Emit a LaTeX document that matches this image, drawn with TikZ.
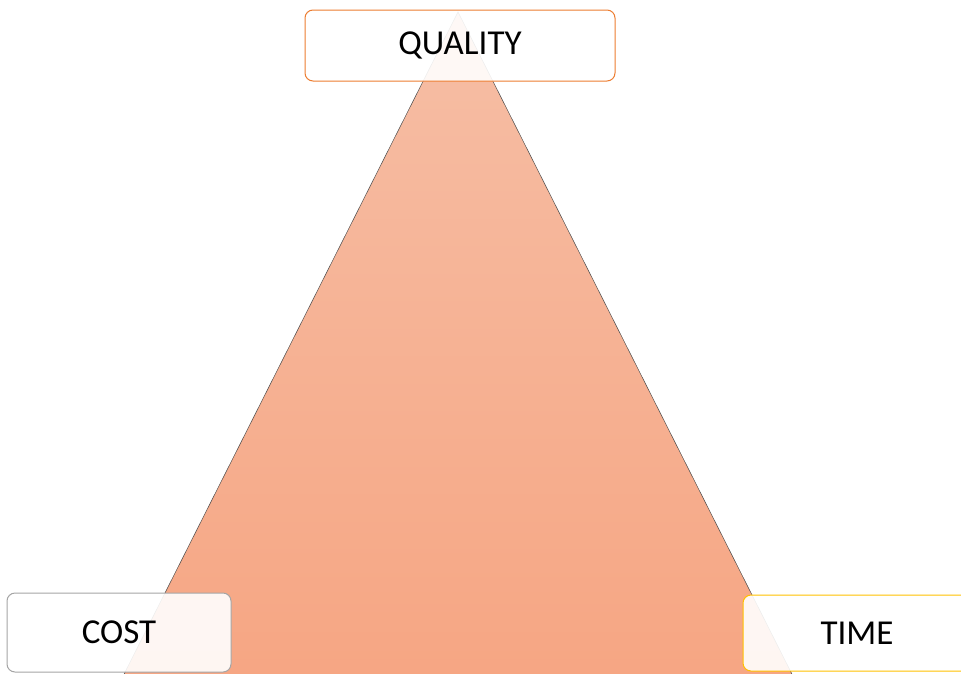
\documentclass[tikz,border=0pt]{standalone}
\usepackage{fontspec}
\setmainfont{Carlito}
\definecolor{qualityline}{HTML}{ED7D31}
\definecolor{costline}{HTML}{A5A5A5}
\definecolor{timeline}{HTML}{FFC000}
\definecolor{tritop}{RGB}{246,190,165}
\definecolor{tribottom}{RGB}{246,165,130}

\begin{document}
\begin{tikzpicture}[x=1pt,y=-1pt,
	corner/.style = {rectangle, rounded corners=8pt, fill=white, fill opacity=0.9, text opacity=1, line width=1pt, minimum height=71pt, font=\fontsize{35}{42}\selectfont},
	qualitybox/.style={corner, draw=qualityline, minimum width=310pt},
	costbox/.style={corner, draw=costline, minimum width=224pt, minimum height=79pt},
	timebox/.style={corner, draw=timeline, minimum width=228pt, minimum height=76pt},
]
\useasboundingbox (0,0) rectangle (961,673);
\clip (0,0) rectangle (961,673);
\coordinate (apex) at (458,12);
\coordinate (base-left) at (111,700);
\coordinate (base-right) at (805,700);
\shadedraw[top color=tritop, bottom color=tribottom, draw=black!70, line width=0.5pt] (apex) -- (base-left) -- (base-right) -- cycle;

\node[qualitybox] (quality) at (460,45.5) {QUALITY};
\node[costbox] (cost) at (119,632.5) {COST};
\node[timebox] (time) at (857,633) {TIME};
\end{tikzpicture}
\end{document}
